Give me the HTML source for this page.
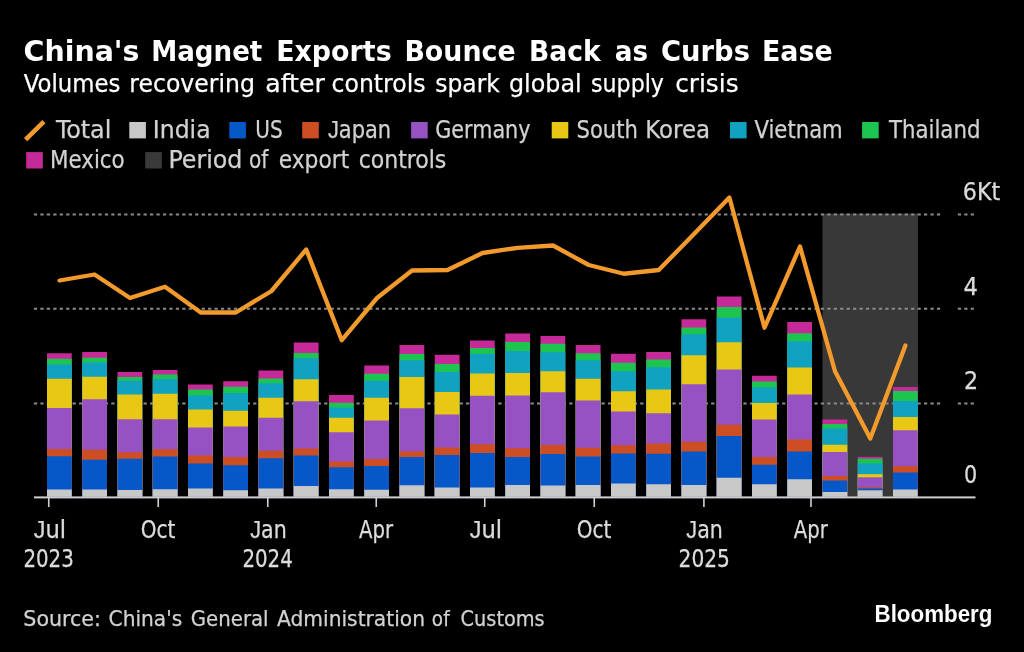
<!DOCTYPE html>
<html lang="en"><head><meta charset="utf-8"><title>China's Magnet Exports Bounce Back as Curbs Ease</title>
<style>
html,body{margin:0;padding:0;background:#000;}
body{width:1024px;height:652px;overflow:hidden;}
svg{display:block;}
text{font-family:'DejaVu Sans Condensed','DejaVu Sans','Liberation Sans',sans-serif;}
.t{font-family:'DejaVu Sans','Liberation Sans',sans-serif;font-weight:bold;font-size:29px;fill:#fff;}
.s{font-family:'DejaVu Sans','Liberation Sans',sans-serif;font-size:24px;fill:#fff;stroke:#fff;stroke-width:0.25px;}
.l{font-size:24px;fill:#d2d2d2;stroke:#d2d2d2;stroke-width:0.25px;}
.a{font-size:24px;fill:#dcdcdc;stroke:#dcdcdc;stroke-width:0.25px;}
.src{font-size:22px;fill:#d2d2d2;stroke:#d2d2d2;stroke-width:0.25px;}
.j{font-family:'Liberation Sans',sans-serif;}
.bb{font-family:'Liberation Sans',sans-serif;font-weight:bold;font-size:23px;fill:#fff;}
</style></head><body>
<svg width="1024" height="652" viewBox="0 0 1024 652">
<rect width="1024" height="652" fill="#000"/>
<text class="t" y="60.75"><tspan x="23.52" textLength="115.97" lengthAdjust="spacingAndGlyphs">China's</tspan> <tspan x="151.2" textLength="111.18" lengthAdjust="spacingAndGlyphs">Magnet</tspan> <tspan x="276.15" textLength="115.52" lengthAdjust="spacingAndGlyphs">Exports</tspan> <tspan x="404.4" textLength="111.22" lengthAdjust="spacingAndGlyphs">Bounce</tspan> <tspan x="528.92" textLength="71.68" lengthAdjust="spacingAndGlyphs">Back</tspan> <tspan x="614.85" textLength="33.29" lengthAdjust="spacingAndGlyphs">as</tspan> <tspan x="661.06" textLength="88.88" lengthAdjust="spacingAndGlyphs">Curbs</tspan> <tspan x="761.9" textLength="70.72" lengthAdjust="spacingAndGlyphs">Ease</tspan></text>
<text class="s" y="92.1"><tspan x="23.75" textLength="96.53" lengthAdjust="spacingAndGlyphs">Volumes</tspan> <tspan x="129.29" textLength="125.68" lengthAdjust="spacingAndGlyphs">recovering</tspan> <tspan x="265.2" textLength="59.66" lengthAdjust="spacingAndGlyphs">after</tspan> <tspan x="331.52" textLength="93.98" lengthAdjust="spacingAndGlyphs">controls</tspan> <tspan x="435.27" textLength="64.63" lengthAdjust="spacingAndGlyphs">spark</tspan> <tspan x="509.01" textLength="72.65" lengthAdjust="spacingAndGlyphs">global</tspan> <tspan x="591.08" textLength="72.86" lengthAdjust="spacingAndGlyphs">supply</tspan> <tspan x="675.22" textLength="63.3" lengthAdjust="spacingAndGlyphs">crisis</tspan></text>
<text class="l" x="56.1" y="138.2" textLength="55.2" lengthAdjust="spacingAndGlyphs">Total</text>
<text class="l" x="152.82" y="138.2" textLength="57.77" lengthAdjust="spacingAndGlyphs">India</text>
<text class="l" x="255.32" y="138.2" textLength="27.33" lengthAdjust="spacingAndGlyphs">US</text>
<text class="l" y="138.2"><tspan class="j" x="327.9" textLength="10.91" lengthAdjust="spacingAndGlyphs">J</tspan><tspan x="338.78" textLength="52.36" lengthAdjust="spacingAndGlyphs">apan</tspan></text>
<text class="l" x="435.29" y="138.2" textLength="95.24" lengthAdjust="spacingAndGlyphs">Germany</text>
<text class="l" y="138.2"><tspan x="576.52" textLength="61.38" lengthAdjust="spacingAndGlyphs">South</tspan> <tspan x="645.38" textLength="64.67" lengthAdjust="spacingAndGlyphs">Korea</tspan></text>
<text class="l" x="754.5" y="138.2" textLength="88.27" lengthAdjust="spacingAndGlyphs">Vietnam</text>
<text class="l" x="888.99" y="138.2" textLength="91.45" lengthAdjust="spacingAndGlyphs">Thailand</text>
<text class="l" x="50.02" y="168.25" textLength="74.69" lengthAdjust="spacingAndGlyphs">Mexico</text>
<text class="l" y="168.25"><tspan x="168.4" textLength="74.09" lengthAdjust="spacingAndGlyphs">Period</tspan> <tspan x="249.07" textLength="19.32" lengthAdjust="spacingAndGlyphs">of</tspan> <tspan x="278.69" textLength="70.52" lengthAdjust="spacingAndGlyphs">export</tspan> <tspan x="358.68" textLength="87.67" lengthAdjust="spacingAndGlyphs">controls</tspan></text>
<text class="a" x="962.87" y="199.8" textLength="37.4" lengthAdjust="spacingAndGlyphs">6Kt</text>
<text class="a" x="963.45" y="295" textLength="14.42" lengthAdjust="spacingAndGlyphs">4</text>
<text class="a" x="963.97" y="389.3" textLength="14.11" lengthAdjust="spacingAndGlyphs">2</text>
<text class="a" x="964.04" y="482.6" textLength="13.16" lengthAdjust="spacingAndGlyphs">0</text>
<text class="a" y="537.75"><tspan class="j" x="33.75" textLength="11.62" lengthAdjust="spacingAndGlyphs">J</tspan><tspan x="45.45" textLength="20.65" lengthAdjust="spacingAndGlyphs">ul</tspan></text>
<text class="a" x="23.43" y="567" textLength="50.39" lengthAdjust="spacingAndGlyphs">2023</text>
<text class="a" x="140.82" y="537.75" textLength="34.6" lengthAdjust="spacingAndGlyphs">Oct</text>
<text class="a" y="537.75"><tspan class="j" x="250.2" textLength="10.8" lengthAdjust="spacingAndGlyphs">J</tspan><tspan x="261.05" textLength="25.66" lengthAdjust="spacingAndGlyphs">an</tspan></text>
<text class="a" x="242.43" y="567" textLength="50.39" lengthAdjust="spacingAndGlyphs">2024</text>
<text class="a" x="359.1" y="537.75" textLength="34.03" lengthAdjust="spacingAndGlyphs">Apr</text>
<text class="a" y="537.75"><tspan class="j" x="469.75" textLength="11.62" lengthAdjust="spacingAndGlyphs">J</tspan><tspan x="481.45" textLength="20.65" lengthAdjust="spacingAndGlyphs">ul</tspan></text>
<text class="a" x="576.82" y="537.75" textLength="34.6" lengthAdjust="spacingAndGlyphs">Oct</text>
<text class="a" y="537.75"><tspan class="j" x="686.35" textLength="10.8" lengthAdjust="spacingAndGlyphs">J</tspan><tspan x="697.2" textLength="25.66" lengthAdjust="spacingAndGlyphs">an</tspan></text>
<text class="a" x="678.57" y="567" textLength="51.36" lengthAdjust="spacingAndGlyphs">2025</text>
<text class="a" x="793.85" y="537.75" textLength="34.03" lengthAdjust="spacingAndGlyphs">Apr</text>
<text class="src" y="625.75"><tspan x="23.36" textLength="77.58" lengthAdjust="spacingAndGlyphs">Source:</tspan> <tspan x="108.58" textLength="73.64" lengthAdjust="spacingAndGlyphs">China's</tspan> <tspan x="190.8" textLength="77.79" lengthAdjust="spacingAndGlyphs">General</tspan> <tspan x="277.1" textLength="147.88" lengthAdjust="spacingAndGlyphs">Administration</tspan> <tspan x="431.87" textLength="17.76" lengthAdjust="spacingAndGlyphs">of</tspan> <tspan x="460.62" textLength="84.08" lengthAdjust="spacingAndGlyphs">Customs</tspan></text>
<text class="bb" x="874.53" y="621.7" textLength="117.89" lengthAdjust="spacingAndGlyphs">Bloomberg</text>
<line x1="25.6" y1="139.6" x2="43.9" y2="121.6" stroke="#f39a2c" stroke-width="4.6" stroke-linecap="butt"/>
<rect x="129.3" y="122" width="16.6" height="16.4" fill="#c8c8c8"/>
<rect x="229.3" y="122" width="16.6" height="16.4" fill="#0658c8"/>
<rect x="302.2" y="122" width="16.6" height="16.4" fill="#cc4e22"/>
<rect x="411.1" y="122" width="16.6" height="16.4" fill="#9652c2"/>
<rect x="551.7" y="122" width="16.6" height="16.4" fill="#e8c814"/>
<rect x="730" y="122" width="16.6" height="16.4" fill="#10a2c0"/>
<rect x="862.1" y="122" width="16.6" height="16.4" fill="#1ec450"/>
<rect x="26.2" y="152.1" width="16.6" height="16.4" fill="#c62a98"/>
<rect x="145.2" y="152.1" width="16.6" height="16.4" fill="#3a3a3a"/>
<rect x="822.5" y="213.6" width="95.5" height="283" fill="#383838"/>
<path d="M33.9 214.4H941" stroke="#8a8a8a" stroke-width="2" stroke-dasharray="3.25 3.2" fill="none"/>
<path d="M957.8 214.4H975.5" stroke="#8a8a8a" stroke-width="2" stroke-dasharray="3.25 3.2" fill="none"/>
<path d="M33.9 308.8H941" stroke="#8a8a8a" stroke-width="2" stroke-dasharray="3.25 3.2" fill="none"/>
<path d="M957.8 308.8H975.5" stroke="#8a8a8a" stroke-width="2" stroke-dasharray="3.25 3.2" fill="none"/>
<path d="M33.9 403.6H941" stroke="#8a8a8a" stroke-width="2" stroke-dasharray="3.25 3.2" fill="none"/>
<path d="M957.8 403.6H975.5" stroke="#8a8a8a" stroke-width="2" stroke-dasharray="3.25 3.2" fill="none"/>
<rect x="47.0" y="353.25" width="24.75" height="143.35" fill="#c62a98"/>
<rect x="47.0" y="358.75" width="24.75" height="137.85" fill="#1ec450"/>
<rect x="47.0" y="364.5" width="24.75" height="132.1" fill="#10a2c0"/>
<rect x="47.0" y="378.75" width="24.75" height="117.85" fill="#e8c814"/>
<rect x="47.0" y="408" width="24.75" height="88.6" fill="#9652c2"/>
<rect x="47.0" y="449" width="24.75" height="47.6" fill="#cc4e22"/>
<rect x="47.0" y="456.25" width="24.75" height="40.35" fill="#0658c8"/>
<rect x="47.0" y="489.5" width="24.75" height="7.1" fill="#c8c8c8"/>
<rect x="82.25" y="352" width="24.75" height="144.6" fill="#c62a98"/>
<rect x="82.25" y="357.75" width="24.75" height="138.85" fill="#1ec450"/>
<rect x="82.25" y="362.5" width="24.75" height="134.1" fill="#10a2c0"/>
<rect x="82.25" y="376.75" width="24.75" height="119.85" fill="#e8c814"/>
<rect x="82.25" y="399.25" width="24.75" height="97.35" fill="#9652c2"/>
<rect x="82.25" y="449.75" width="24.75" height="46.85" fill="#cc4e22"/>
<rect x="82.25" y="459.75" width="24.75" height="36.85" fill="#0658c8"/>
<rect x="82.25" y="489.5" width="24.75" height="7.1" fill="#c8c8c8"/>
<rect x="117.5" y="372" width="24.75" height="124.6" fill="#c62a98"/>
<rect x="117.5" y="377" width="24.75" height="119.6" fill="#1ec450"/>
<rect x="117.5" y="380.75" width="24.75" height="115.85" fill="#10a2c0"/>
<rect x="117.5" y="394.5" width="24.75" height="102.1" fill="#e8c814"/>
<rect x="117.5" y="419.25" width="24.75" height="77.35" fill="#9652c2"/>
<rect x="117.5" y="452.25" width="24.75" height="44.35" fill="#cc4e22"/>
<rect x="117.5" y="458.75" width="24.75" height="37.85" fill="#0658c8"/>
<rect x="117.5" y="490" width="24.75" height="6.6" fill="#c8c8c8"/>
<rect x="152.75" y="370" width="24.75" height="126.6" fill="#c62a98"/>
<rect x="152.75" y="374.5" width="24.75" height="122.1" fill="#1ec450"/>
<rect x="152.75" y="379" width="24.75" height="117.6" fill="#10a2c0"/>
<rect x="152.75" y="393.75" width="24.75" height="102.85" fill="#e8c814"/>
<rect x="152.75" y="419.25" width="24.75" height="77.35" fill="#9652c2"/>
<rect x="152.75" y="449.25" width="24.75" height="47.35" fill="#cc4e22"/>
<rect x="152.75" y="456.5" width="24.75" height="40.1" fill="#0658c8"/>
<rect x="152.75" y="489.25" width="24.75" height="7.35" fill="#c8c8c8"/>
<rect x="188.0" y="384.5" width="24.75" height="112.1" fill="#c62a98"/>
<rect x="188.0" y="389.5" width="24.75" height="107.1" fill="#1ec450"/>
<rect x="188.0" y="395.5" width="24.75" height="101.1" fill="#10a2c0"/>
<rect x="188.0" y="409.5" width="24.75" height="87.1" fill="#e8c814"/>
<rect x="188.0" y="427.5" width="24.75" height="69.1" fill="#9652c2"/>
<rect x="188.0" y="455.5" width="24.75" height="41.1" fill="#cc4e22"/>
<rect x="188.0" y="463.5" width="24.75" height="33.1" fill="#0658c8"/>
<rect x="188.0" y="488.5" width="24.75" height="8.1" fill="#c8c8c8"/>
<rect x="223.25" y="381.25" width="24.75" height="115.35" fill="#c62a98"/>
<rect x="223.25" y="386.75" width="24.75" height="109.85" fill="#1ec450"/>
<rect x="223.25" y="393" width="24.75" height="103.6" fill="#10a2c0"/>
<rect x="223.25" y="410.75" width="24.75" height="85.85" fill="#e8c814"/>
<rect x="223.25" y="426.5" width="24.75" height="70.1" fill="#9652c2"/>
<rect x="223.25" y="457" width="24.75" height="39.6" fill="#cc4e22"/>
<rect x="223.25" y="465.25" width="24.75" height="31.35" fill="#0658c8"/>
<rect x="223.25" y="490.25" width="24.75" height="6.35" fill="#c8c8c8"/>
<rect x="258.5" y="370.5" width="24.75" height="126.1" fill="#c62a98"/>
<rect x="258.5" y="378.5" width="24.75" height="118.1" fill="#1ec450"/>
<rect x="258.5" y="383.25" width="24.75" height="113.35" fill="#10a2c0"/>
<rect x="258.5" y="397.75" width="24.75" height="98.85" fill="#e8c814"/>
<rect x="258.5" y="417.75" width="24.75" height="78.85" fill="#9652c2"/>
<rect x="258.5" y="450.75" width="24.75" height="45.85" fill="#cc4e22"/>
<rect x="258.5" y="458.25" width="24.75" height="38.35" fill="#0658c8"/>
<rect x="258.5" y="488.5" width="24.75" height="8.1" fill="#c8c8c8"/>
<rect x="293.75" y="342.5" width="24.75" height="154.1" fill="#c62a98"/>
<rect x="293.75" y="353" width="24.75" height="143.6" fill="#1ec450"/>
<rect x="293.75" y="358.25" width="24.75" height="138.35" fill="#10a2c0"/>
<rect x="293.75" y="379.25" width="24.75" height="117.35" fill="#e8c814"/>
<rect x="293.75" y="401.25" width="24.75" height="95.35" fill="#9652c2"/>
<rect x="293.75" y="448.5" width="24.75" height="48.1" fill="#cc4e22"/>
<rect x="293.75" y="455.5" width="24.75" height="41.1" fill="#0658c8"/>
<rect x="293.75" y="486" width="24.75" height="10.6" fill="#c8c8c8"/>
<rect x="329.0" y="395" width="24.75" height="101.6" fill="#c62a98"/>
<rect x="329.0" y="402.75" width="24.75" height="93.85" fill="#1ec450"/>
<rect x="329.0" y="407.5" width="24.75" height="89.1" fill="#10a2c0"/>
<rect x="329.0" y="417.75" width="24.75" height="78.85" fill="#e8c814"/>
<rect x="329.0" y="432.25" width="24.75" height="64.35" fill="#9652c2"/>
<rect x="329.0" y="461.5" width="24.75" height="35.1" fill="#cc4e22"/>
<rect x="329.0" y="467.25" width="24.75" height="29.35" fill="#0658c8"/>
<rect x="329.0" y="489.25" width="24.75" height="7.35" fill="#c8c8c8"/>
<rect x="364.25" y="365.5" width="24.75" height="131.1" fill="#c62a98"/>
<rect x="364.25" y="373.75" width="24.75" height="122.85" fill="#1ec450"/>
<rect x="364.25" y="380.75" width="24.75" height="115.85" fill="#10a2c0"/>
<rect x="364.25" y="397.75" width="24.75" height="98.85" fill="#e8c814"/>
<rect x="364.25" y="420.5" width="24.75" height="76.1" fill="#9652c2"/>
<rect x="364.25" y="459" width="24.75" height="37.6" fill="#cc4e22"/>
<rect x="364.25" y="466" width="24.75" height="30.6" fill="#0658c8"/>
<rect x="364.25" y="489.75" width="24.75" height="6.85" fill="#c8c8c8"/>
<rect x="399.5" y="345" width="24.75" height="151.6" fill="#c62a98"/>
<rect x="399.5" y="354" width="24.75" height="142.6" fill="#1ec450"/>
<rect x="399.5" y="360.25" width="24.75" height="136.35" fill="#10a2c0"/>
<rect x="399.5" y="377" width="24.75" height="119.6" fill="#e8c814"/>
<rect x="399.5" y="408.25" width="24.75" height="88.35" fill="#9652c2"/>
<rect x="399.5" y="451.5" width="24.75" height="45.1" fill="#cc4e22"/>
<rect x="399.5" y="457" width="24.75" height="39.6" fill="#0658c8"/>
<rect x="399.5" y="485.25" width="24.75" height="11.35" fill="#c8c8c8"/>
<rect x="434.75" y="354.75" width="24.75" height="141.85" fill="#c62a98"/>
<rect x="434.75" y="364" width="24.75" height="132.6" fill="#1ec450"/>
<rect x="434.75" y="372" width="24.75" height="124.6" fill="#10a2c0"/>
<rect x="434.75" y="392" width="24.75" height="104.6" fill="#e8c814"/>
<rect x="434.75" y="414.5" width="24.75" height="82.1" fill="#9652c2"/>
<rect x="434.75" y="447.5" width="24.75" height="49.1" fill="#cc4e22"/>
<rect x="434.75" y="455" width="24.75" height="41.6" fill="#0658c8"/>
<rect x="434.75" y="487.5" width="24.75" height="9.1" fill="#c8c8c8"/>
<rect x="470.0" y="340.5" width="24.75" height="156.1" fill="#c62a98"/>
<rect x="470.0" y="348" width="24.75" height="148.6" fill="#1ec450"/>
<rect x="470.0" y="354" width="24.75" height="142.6" fill="#10a2c0"/>
<rect x="470.0" y="373.5" width="24.75" height="123.1" fill="#e8c814"/>
<rect x="470.0" y="395.75" width="24.75" height="100.85" fill="#9652c2"/>
<rect x="470.0" y="444.25" width="24.75" height="52.35" fill="#cc4e22"/>
<rect x="470.0" y="453" width="24.75" height="43.6" fill="#0658c8"/>
<rect x="470.0" y="487.5" width="24.75" height="9.1" fill="#c8c8c8"/>
<rect x="505.25" y="333.5" width="24.75" height="163.1" fill="#c62a98"/>
<rect x="505.25" y="342" width="24.75" height="154.6" fill="#1ec450"/>
<rect x="505.25" y="351" width="24.75" height="145.6" fill="#10a2c0"/>
<rect x="505.25" y="373" width="24.75" height="123.6" fill="#e8c814"/>
<rect x="505.25" y="395.5" width="24.75" height="101.1" fill="#9652c2"/>
<rect x="505.25" y="448.25" width="24.75" height="48.35" fill="#cc4e22"/>
<rect x="505.25" y="457" width="24.75" height="39.6" fill="#0658c8"/>
<rect x="505.25" y="485" width="24.75" height="11.6" fill="#c8c8c8"/>
<rect x="540.5" y="336" width="24.75" height="160.6" fill="#c62a98"/>
<rect x="540.5" y="343.75" width="24.75" height="152.85" fill="#1ec450"/>
<rect x="540.5" y="352.25" width="24.75" height="144.35" fill="#10a2c0"/>
<rect x="540.5" y="371.25" width="24.75" height="125.35" fill="#e8c814"/>
<rect x="540.5" y="392.25" width="24.75" height="104.35" fill="#9652c2"/>
<rect x="540.5" y="445" width="24.75" height="51.6" fill="#cc4e22"/>
<rect x="540.5" y="454" width="24.75" height="42.6" fill="#0658c8"/>
<rect x="540.5" y="485.5" width="24.75" height="11.1" fill="#c8c8c8"/>
<rect x="575.75" y="345" width="24.75" height="151.6" fill="#c62a98"/>
<rect x="575.75" y="353.25" width="24.75" height="143.35" fill="#1ec450"/>
<rect x="575.75" y="360.25" width="24.75" height="136.35" fill="#10a2c0"/>
<rect x="575.75" y="378.75" width="24.75" height="117.85" fill="#e8c814"/>
<rect x="575.75" y="400.5" width="24.75" height="96.1" fill="#9652c2"/>
<rect x="575.75" y="447.75" width="24.75" height="48.85" fill="#cc4e22"/>
<rect x="575.75" y="456.5" width="24.75" height="40.1" fill="#0658c8"/>
<rect x="575.75" y="485" width="24.75" height="11.6" fill="#c8c8c8"/>
<rect x="611.0" y="353.75" width="24.75" height="142.85" fill="#c62a98"/>
<rect x="611.0" y="362.75" width="24.75" height="133.85" fill="#1ec450"/>
<rect x="611.0" y="371.25" width="24.75" height="125.35" fill="#10a2c0"/>
<rect x="611.0" y="391.25" width="24.75" height="105.35" fill="#e8c814"/>
<rect x="611.0" y="411.5" width="24.75" height="85.1" fill="#9652c2"/>
<rect x="611.0" y="445.25" width="24.75" height="51.35" fill="#cc4e22"/>
<rect x="611.0" y="453.5" width="24.75" height="43.1" fill="#0658c8"/>
<rect x="611.0" y="483.5" width="24.75" height="13.1" fill="#c8c8c8"/>
<rect x="646.25" y="352" width="24.75" height="144.6" fill="#c62a98"/>
<rect x="646.25" y="359.5" width="24.75" height="137.1" fill="#1ec450"/>
<rect x="646.25" y="367.25" width="24.75" height="129.35" fill="#10a2c0"/>
<rect x="646.25" y="389.5" width="24.75" height="107.1" fill="#e8c814"/>
<rect x="646.25" y="413.25" width="24.75" height="83.35" fill="#9652c2"/>
<rect x="646.25" y="443.5" width="24.75" height="53.1" fill="#cc4e22"/>
<rect x="646.25" y="453.75" width="24.75" height="42.85" fill="#0658c8"/>
<rect x="646.25" y="484.25" width="24.75" height="12.35" fill="#c8c8c8"/>
<rect x="681.5" y="319.25" width="24.75" height="177.35" fill="#c62a98"/>
<rect x="681.5" y="327.5" width="24.75" height="169.1" fill="#1ec450"/>
<rect x="681.5" y="334.25" width="24.75" height="162.35" fill="#10a2c0"/>
<rect x="681.5" y="355.25" width="24.75" height="141.35" fill="#e8c814"/>
<rect x="681.5" y="384.25" width="24.75" height="112.35" fill="#9652c2"/>
<rect x="681.5" y="441.75" width="24.75" height="54.85" fill="#cc4e22"/>
<rect x="681.5" y="451.5" width="24.75" height="45.1" fill="#0658c8"/>
<rect x="681.5" y="485" width="24.75" height="11.6" fill="#c8c8c8"/>
<rect x="716.75" y="296.5" width="24.75" height="200.1" fill="#c62a98"/>
<rect x="716.75" y="307" width="24.75" height="189.6" fill="#1ec450"/>
<rect x="716.75" y="317.75" width="24.75" height="178.85" fill="#10a2c0"/>
<rect x="716.75" y="342.25" width="24.75" height="154.35" fill="#e8c814"/>
<rect x="716.75" y="369.5" width="24.75" height="127.1" fill="#9652c2"/>
<rect x="716.75" y="424.75" width="24.75" height="71.85" fill="#cc4e22"/>
<rect x="716.75" y="436" width="24.75" height="60.6" fill="#0658c8"/>
<rect x="716.75" y="477.75" width="24.75" height="18.85" fill="#c8c8c8"/>
<rect x="752.0" y="375.75" width="24.75" height="120.85" fill="#c62a98"/>
<rect x="752.0" y="381.5" width="24.75" height="115.1" fill="#1ec450"/>
<rect x="752.0" y="387.5" width="24.75" height="109.1" fill="#10a2c0"/>
<rect x="752.0" y="403" width="24.75" height="93.6" fill="#e8c814"/>
<rect x="752.0" y="419.5" width="24.75" height="77.1" fill="#9652c2"/>
<rect x="752.0" y="457" width="24.75" height="39.6" fill="#cc4e22"/>
<rect x="752.0" y="464.75" width="24.75" height="31.85" fill="#0658c8"/>
<rect x="752.0" y="484.25" width="24.75" height="12.35" fill="#c8c8c8"/>
<rect x="787.25" y="322" width="24.75" height="174.6" fill="#c62a98"/>
<rect x="787.25" y="333.25" width="24.75" height="163.35" fill="#1ec450"/>
<rect x="787.25" y="341.25" width="24.75" height="155.35" fill="#10a2c0"/>
<rect x="787.25" y="367.5" width="24.75" height="129.1" fill="#e8c814"/>
<rect x="787.25" y="394.5" width="24.75" height="102.1" fill="#9652c2"/>
<rect x="787.25" y="439.5" width="24.75" height="57.1" fill="#cc4e22"/>
<rect x="787.25" y="451.5" width="24.75" height="45.1" fill="#0658c8"/>
<rect x="787.25" y="479.25" width="24.75" height="17.35" fill="#c8c8c8"/>
<rect x="822.5" y="419.5" width="24.75" height="77.1" fill="#c62a98"/>
<rect x="822.5" y="424" width="24.75" height="72.6" fill="#1ec450"/>
<rect x="822.5" y="428.5" width="24.75" height="68.1" fill="#10a2c0"/>
<rect x="822.5" y="444.75" width="24.75" height="51.85" fill="#e8c814"/>
<rect x="822.5" y="452" width="24.75" height="44.6" fill="#9652c2"/>
<rect x="822.5" y="476" width="24.75" height="20.6" fill="#cc4e22"/>
<rect x="822.5" y="480.5" width="24.75" height="16.1" fill="#0658c8"/>
<rect x="822.5" y="492" width="24.75" height="4.6" fill="#c8c8c8"/>
<rect x="857.75" y="456.8" width="24.75" height="39.8" fill="#c62a98"/>
<rect x="857.75" y="458.6" width="24.75" height="38.0" fill="#1ec450"/>
<rect x="857.75" y="463.4" width="24.75" height="33.2" fill="#10a2c0"/>
<rect x="857.75" y="474.2" width="24.75" height="22.4" fill="#e8c814"/>
<rect x="857.75" y="477.3" width="24.75" height="19.3" fill="#9652c2"/>
<rect x="857.75" y="487.3" width="24.75" height="9.3" fill="#cc4e22"/>
<rect x="857.75" y="488.4" width="24.75" height="8.2" fill="#0658c8"/>
<rect x="857.75" y="490.3" width="24.75" height="6.3" fill="#c8c8c8"/>
<rect x="893.0" y="387" width="24.75" height="109.6" fill="#c62a98"/>
<rect x="893.0" y="391" width="24.75" height="105.6" fill="#1ec450"/>
<rect x="893.0" y="401" width="24.75" height="95.6" fill="#10a2c0"/>
<rect x="893.0" y="417" width="24.75" height="79.6" fill="#e8c814"/>
<rect x="893.0" y="430.25" width="24.75" height="66.35" fill="#9652c2"/>
<rect x="893.0" y="466.25" width="24.75" height="30.35" fill="#cc4e22"/>
<rect x="893.0" y="472.5" width="24.75" height="24.1" fill="#0658c8"/>
<rect x="893.0" y="489.5" width="24.75" height="7.1" fill="#c8c8c8"/>
<rect x="34" y="496.4" width="941.5" height="2" fill="#d0d0d0"/>
<rect x="47.95" y="498" width="1.6" height="9" fill="#d0d0d0"/>
<rect x="157.45" y="498" width="1.6" height="9" fill="#d0d0d0"/>
<rect x="266.95" y="498" width="1.6" height="9" fill="#d0d0d0"/>
<rect x="375.45" y="498" width="1.6" height="9" fill="#d0d0d0"/>
<rect x="483.95" y="498" width="1.6" height="9" fill="#d0d0d0"/>
<rect x="593.45" y="498" width="1.6" height="9" fill="#d0d0d0"/>
<rect x="703.1" y="498" width="1.6" height="9" fill="#d0d0d0"/>
<rect x="810.2" y="498" width="1.6" height="9" fill="#d0d0d0"/>
<polyline points="59.5,280.5 94.5,274.5 130,298 165,286.75 200.75,312.5 235.75,312.5 271.25,291.25 306.25,249.5 341.75,340.2 377,298 412,270.5 447.5,270 482.5,253 517.5,247.8 553,245.5 588.75,265 623.75,273.75 658.75,270 694,234 729.4,197.5 764.5,327.7 800,246.5 835,371.25 870.3,438.5 905.4,345.5" fill="none" stroke="#f39a2c" stroke-width="4.3" stroke-linejoin="round" stroke-linecap="round"/>
</svg></body></html>
